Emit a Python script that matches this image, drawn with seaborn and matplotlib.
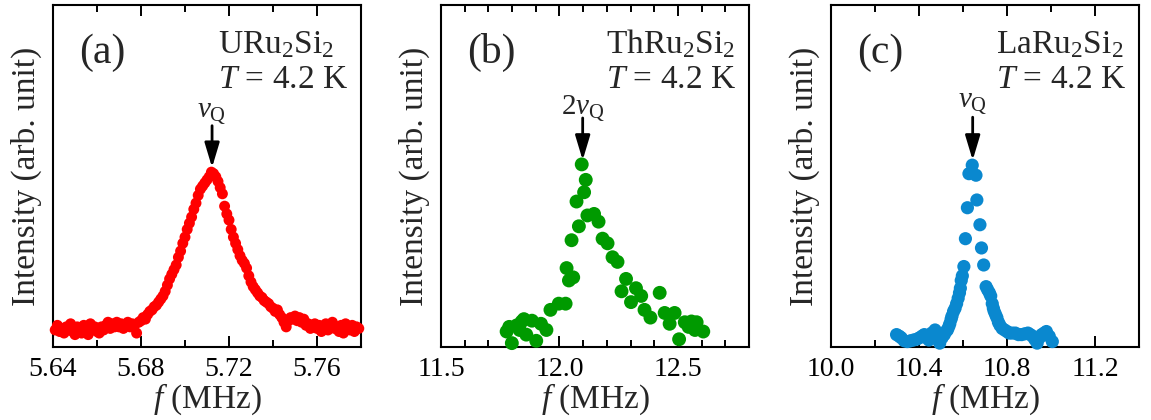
import numpy as np
import pandas as pd
import matplotlib
matplotlib.use("Agg")
import matplotlib.pyplot as plt
import seaborn as sns

# ---------------- data (normalised intensity) ----------------
f_a = [5.641, 5.642, 5.643, 5.644, 5.645, 5.646, 5.647, 5.648, 5.649, 5.650,
       5.651, 5.652, 5.653, 5.654, 5.655, 5.656, 5.657, 5.658, 5.659, 5.660,
       5.661, 5.662, 5.663, 5.664, 5.665, 5.666, 5.667, 5.668, 5.669, 5.670,
       5.671, 5.672, 5.673, 5.674, 5.675, 5.676, 5.677, 5.678, 5.679, 5.680,
       5.681, 5.682, 5.683, 5.684, 5.685, 5.686, 5.687, 5.688, 5.689, 5.690,
       5.691, 5.692, 5.693, 5.694, 5.695, 5.696, 5.697, 5.698, 5.699, 5.700,
       5.701, 5.702, 5.703, 5.704, 5.705, 5.706, 5.707, 5.708, 5.709, 5.710,
       5.711, 5.712, 5.713, 5.714, 5.715, 5.716, 5.717, 5.718, 5.719, 5.720,
       5.721, 5.722, 5.723, 5.724, 5.725, 5.726, 5.727, 5.728, 5.729, 5.730,
       5.731, 5.732, 5.733, 5.734, 5.735, 5.736, 5.737, 5.738, 5.739, 5.740,
       5.741, 5.742, 5.743, 5.744, 5.745, 5.746, 5.747, 5.748, 5.749, 5.750,
       5.751, 5.752, 5.753, 5.754, 5.755, 5.756, 5.757, 5.758, 5.759, 5.760,
       5.761, 5.762, 5.763, 5.764, 5.765, 5.766, 5.767, 5.768, 5.769, 5.770,
       5.771, 5.772, 5.773, 5.774, 5.775, 5.776, 5.777, 5.778, 5.779]
I_a = [-0.02, 0.01, -0.03, -0.01, -0.04, 0.00, -0.02, 0.02, -0.03, -0.05,
       0.00, -0.02, -0.04, 0.01, -0.01, -0.05, 0.02, -0.01, 0.00, -0.03,
       -0.04, 0.00, -0.02, 0.01, 0.03, -0.01, 0.02, 0.00, 0.03, 0.00,
       0.02, -0.01, 0.01, 0.03, 0.00, 0.02, 0.01, -0.04, 0.03, 0.04,
       0.06, 0.05, 0.08, 0.10, 0.11, 0.13, 0.14, 0.16, 0.18, 0.20,
       0.23, 0.27, 0.31, 0.34, 0.37, 0.40, 0.45, 0.49, 0.54, 0.58,
       0.63, 0.67, 0.71, 0.76, 0.80, 0.85, 0.89, 0.91, 0.93, 0.95,
       0.97, 1.00, 0.99, 0.97, 0.94, 0.90, 0.86, 0.78, 0.73, 0.69,
       0.63, 0.58, 0.54, 0.50, 0.46, 0.43, 0.41, 0.38, 0.33, 0.29,
       0.26, 0.24, 0.22, 0.20, 0.19, 0.17, 0.16, 0.15, 0.13, 0.12,
       0.10, 0.11, 0.08, 0.06, 0.03, 0.00, 0.04, 0.06, 0.05, 0.07,
       0.04, 0.06, 0.03, 0.05, 0.01, 0.02, -0.01, 0.00, 0.02, -0.01,
       0.01, -0.03, 0.00, 0.02, -0.02, 0.01, 0.03, -0.01, 0.00, -0.03,
       0.01, -0.04, 0.02, 0.00, -0.02, 0.01, -0.03, 0.00, -0.01]

f_b = [11.777, 11.788, 11.799, 11.820, 11.832, 11.841, 11.850, 11.860, 11.884, 11.902,
       11.922, 11.945, 11.962, 11.997, 12.026, 12.030, 12.040, 12.051, 12.058, 12.072,
       12.082, 12.094, 12.104, 12.111, 12.118, 12.146, 12.165, 12.182, 12.203, 12.224,
       12.245, 12.262, 12.281, 12.302, 12.323, 12.345, 12.359, 12.384, 12.423, 12.444,
       12.465, 12.486, 12.505, 12.529, 12.545, 12.557, 12.572, 12.579, 12.607]
I_b = [-0.03, 0.00, -0.105, 0.01, -0.02, 0.035, 0.05, -0.05, 0.04, -0.09,
       0.02, -0.02, 0.11, 0.15, 0.15, 0.38, 0.30, 0.56, 0.32, 0.81,
       0.65, 1.05, 0.87, 0.95, 0.72, 0.73, 0.68, 0.57, 0.54, 0.45,
       0.42, 0.23, 0.31, 0.16, 0.25, 0.20, 0.11, 0.06, 0.22, 0.09,
       0.02, 0.09, -0.08, 0.03, 0.00, 0.035, -0.02, 0.03, -0.03]

f_c = [10.298, 10.310, 10.319, 10.333, 10.347, 10.361, 10.375, 10.389, 10.403, 10.414,
       10.424, 10.435, 10.445, 10.458, 10.473, 10.484, 10.494, 10.505, 10.515, 10.522,
       10.529, 10.535, 10.540, 10.546, 10.550, 10.557, 10.564, 10.571, 10.578, 10.584,
       10.588, 10.592, 10.597, 10.604, 10.611, 10.620, 10.627, 10.642, 10.659, 10.663,
       10.677, 10.684, 10.694, 10.705, 10.712, 10.720, 10.726, 10.733, 10.738, 10.742,
       10.748, 10.754, 10.761, 10.768, 10.778, 10.789, 10.800, 10.810, 10.824, 10.838,
       10.852, 10.866, 10.880, 10.895, 10.906, 10.916, 10.926, 10.937, 10.948, 10.958,
       10.969, 10.979, 10.992, 11.006]
I_c = [-0.05, -0.06, -0.07, -0.09, -0.095, -0.09, -0.085, -0.08, -0.07, -0.06,
       -0.05, -0.07, -0.085, -0.04, -0.02, -0.06, -0.105, -0.07, -0.05, -0.03,
       -0.02, 0.00, 0.02, 0.05, 0.07, 0.10, 0.12, 0.15, 0.185, 0.22,
       0.25, 0.30, 0.33, 0.39, 0.57, 0.77, 0.99, 1.045, 0.98, 0.82,
       0.66, 0.51, 0.40, 0.26, 0.24, 0.22, 0.20, 0.15, 0.12, 0.10,
       0.08, 0.06, 0.03, 0.01, -0.01, -0.02, -0.03, -0.04, -0.04, -0.04,
       -0.05, -0.05, -0.045, -0.04, -0.05, -0.06, -0.08, -0.105, -0.07, -0.05,
       -0.04, -0.03, -0.06, -0.095]

compounds = [r"URu$_2$Si$_2$", r"ThRu$_2$Si$_2$", r"LaRu$_2$Si$_2$"]
panel_tags = ["(a)", "(b)", "(c)"]
temp_label = r"$T$ = 4.2 K"
peak_labels = [r"$\nu_{\rm Q}$", r"2$\nu_{\rm Q}$", r"$\nu_{\rm Q}$"]
peak_pos = [5.7123, 12.098, 10.644]
arrow_tip = [1.03, 1.077, 1.077]
arrow_top = [1.30, 1.35, 1.355]
label_base = [1.36, 1.38, 1.42]
xlims = [(5.64, 5.78), (11.5, 12.8), (10.0, 11.3)]
major_ticks = [[5.64, 5.68, 5.72, 5.76], [11.5, 12.0, 12.5], [10.0, 10.4, 10.8, 11.2]]
tick_labels = [["5.64", "5.68", "5.72", "5.76"], ["11.5", "12.0", "12.5"],
               ["10.0", "10.4", "10.8", "11.2"]]
minor_step = [0.02, 0.1, 0.2]
colors = ["#ff0000", "#009a00", "#0a88cf"]
msizes = [62, 100, 90]

# ---------------- style ----------------
sns.set_theme(style="ticks")
plt.rcParams["font.family"] = ["Liberation Serif", "DejaVu Serif"]
plt.rcParams["mathtext.fontset"] = "custom"
plt.rcParams["mathtext.rm"] = "Liberation Serif"
plt.rcParams["mathtext.it"] = "Liberation Serif:italic"
plt.rcParams["mathtext.bf"] = "Liberation Serif:bold"

fig = plt.figure(figsize=(11.51, 4.20), dpi=100)
lefts = [53 / 1151, 441 / 1151, 831 / 1151]
width = 308 / 1151
bottom = 1 - 347 / 420
height = 342 / 420

datasets = [(f_a, I_a), (f_b, I_b), (f_c, I_c)]

for i in range(3):
    ax = fig.add_axes([lefts[i], bottom, width, height])
    df = pd.DataFrame({"f": datasets[i][0], "I": datasets[i][1]})
    sns.scatterplot(data=df, x="f", y="I", ax=ax, color=colors[i], s=msizes[i],
                    linewidth=0, edgecolor="none", zorder=3, clip_on=False)
    ax.set_xlim(*xlims[i])
    ax.set_ylim(-0.13, 2.08)
    ax.set_yticks([])
    ax.set_xticks(major_ticks[i])
    ax.set_xticklabels(tick_labels[i])
    lo, hi = xlims[i]
    n = int(round((hi - lo) / minor_step[i]))
    ax.set_xticks([lo + k * minor_step[i] for k in range(n + 1)], minor=True)
    ax.tick_params(axis="x", which="both", direction="in", top=True, bottom=True,
                   labelsize=20, pad=7, width=1.4, colors="black")
    ax.tick_params(axis="x", which="major", length=8)
    ax.tick_params(axis="x", which="minor", length=5)
    for sp in ax.spines.values():
        sp.set_visible(True)
        sp.set_linewidth(1.5)
        sp.set_color("black")
    ax.set_xlabel(r"$f$ (MHz)", fontsize=24, labelpad=0)
    ax.set_ylabel("Intensity (arb. unit)", fontsize=24, labelpad=8)

    ax.text(0.085, 0.83, panel_tags[i], transform=ax.transAxes, fontsize=30,
            ha="left", va="baseline")
    ax.text(0.535, 0.86, compounds[i], transform=ax.transAxes, fontsize=24,
            ha="left", va="baseline")
    ax.text(0.535, 0.757, temp_label, transform=ax.transAxes, fontsize=24,
            ha="left", va="baseline")

    ax.annotate("", xy=(peak_pos[i], arrow_tip[i]), xytext=(peak_pos[i], arrow_top[i]),
                arrowprops=dict(arrowstyle="-|>,head_length=1.5,head_width=0.45",
                                mutation_scale=10, lw=2, color="black",
                                shrinkA=0, shrinkB=0), zorder=4)
    ax.text(peak_pos[i], label_base[i], peak_labels[i], fontsize=21, ha="center",
            va="baseline")

fig.savefig("out.png", dpi=100)
